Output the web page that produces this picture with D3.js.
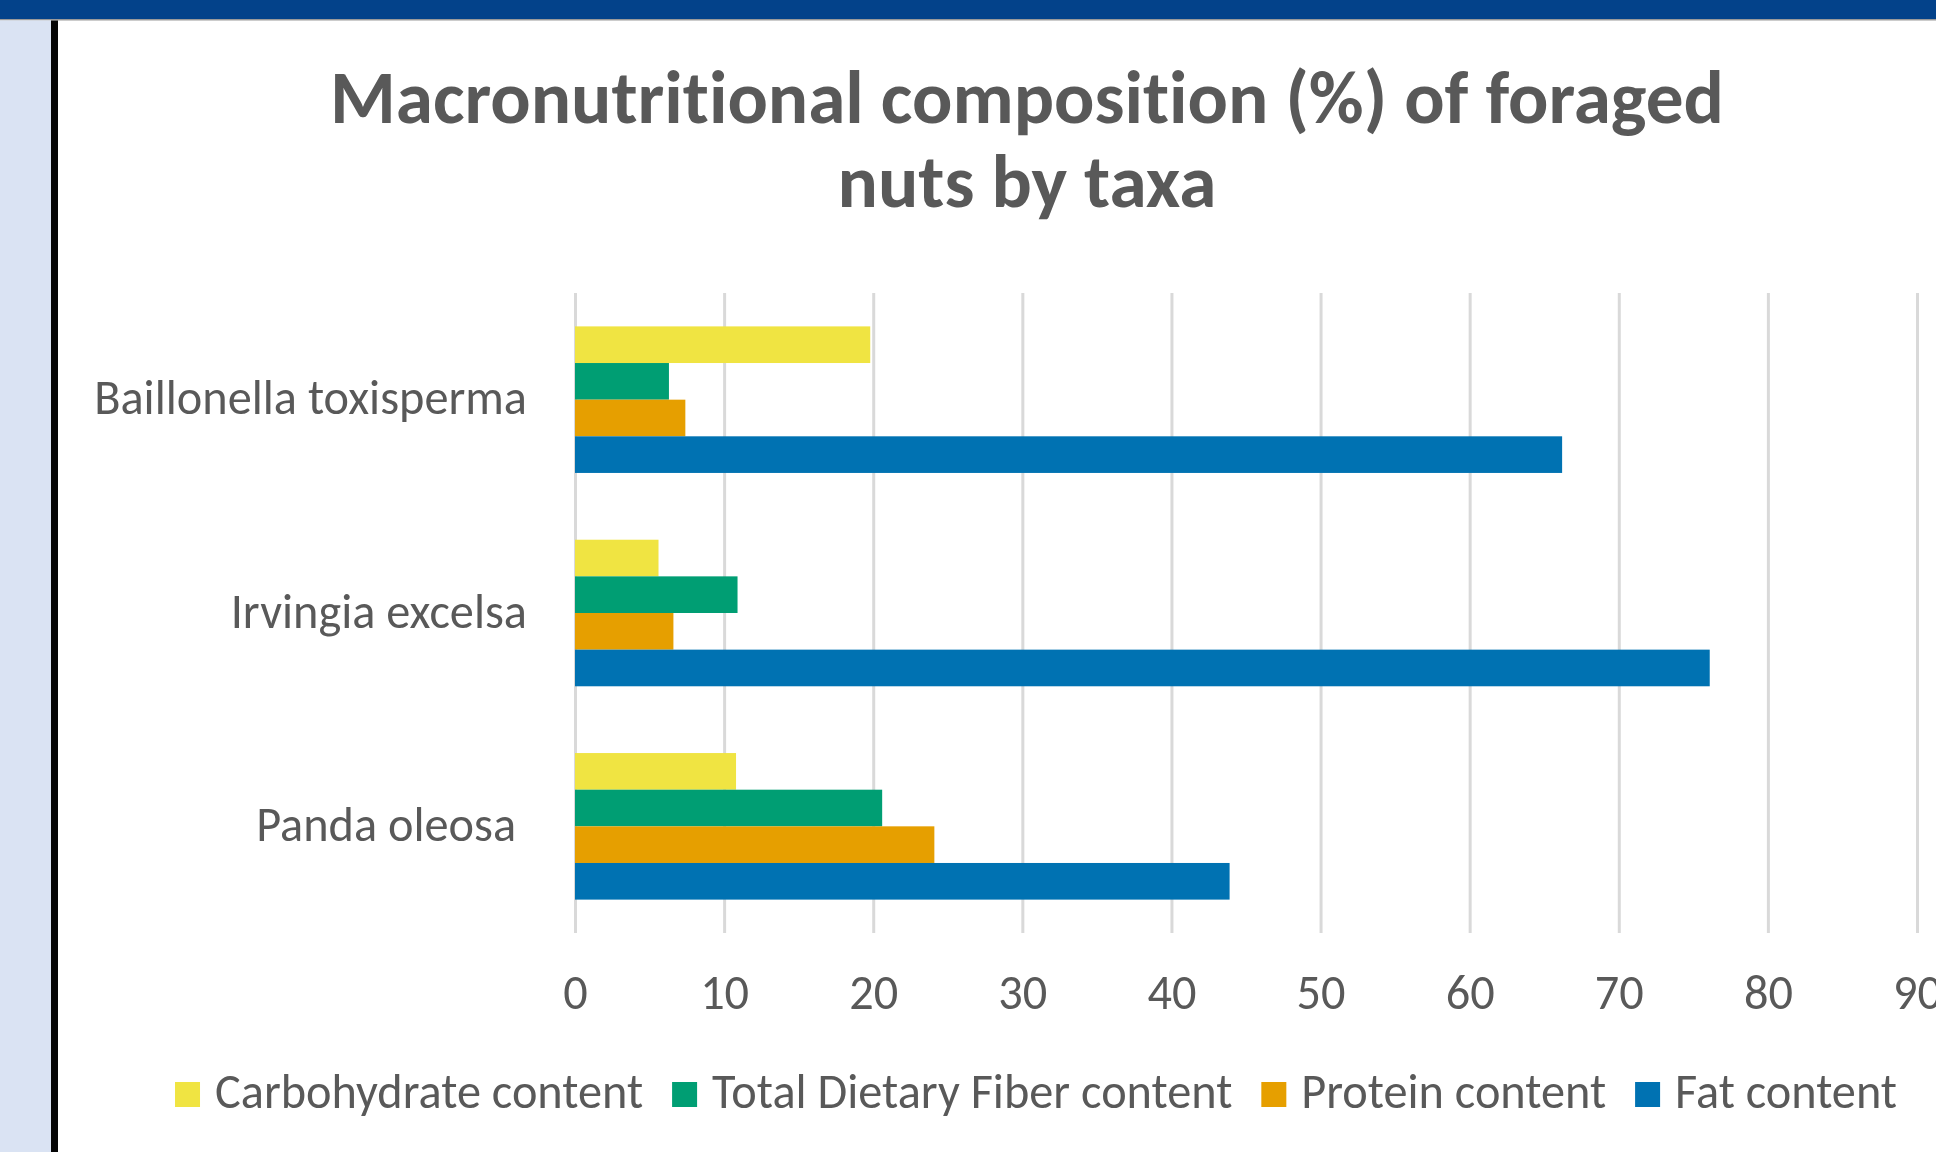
<!DOCTYPE html>
<html>
<head>
<meta charset="utf-8">
<script src="https://cdn.jsdelivr.net/npm/d3@7/dist/d3.min.js"></script>
<style>
  html, body { margin: 0; padding: 0; background: #ffffff; }
  svg { display: block; }
  text { font-family: Carlito, Calibri, Lato, "Open Sans", sans-serif; font-variant-ligatures: none; font-feature-settings: "liga" 0, "clig" 0; }
</style>
</head>
<body>
<svg id="chart" width="1936" height="1152"></svg>
<script>
// ---------------- data ----------------
const categories = ["Baillonella toxisperma", "Irvingia excelsa", "Panda oleosa "];
const seriesNames = ["Carbohydrate content", "Total Dietary Fiber content", "Protein content", "Fat content"];
const carbohydrate = [19.8, 5.6, 10.8];
const fiber = [6.3, 10.9, 20.6];
const protein = [7.4, 6.6, 24.1];
const fat = [66.2, 76.1, 43.9];
const xTicks = [0, 10, 20, 30, 40, 50, 60, 70, 80, 90];
const seriesColors = ["#F0E442", "#009E73", "#E69F00", "#0072B2"];
const titleLines = ["Macronutritional composition (%) of foraged", "nuts by taxa"];

const seriesValues = [carbohydrate, fiber, protein, fat];
const rows = categories.map((c, i) => ({
  category: c,
  values: seriesNames.map((s, j) => ({ series: s, value: seriesValues[j][i], color: seriesColors[j] }))
}));

// ---------------- layout ----------------
const W = 1936, H = 1152;
const svg = d3.select("#chart");
const textColor = "#595959";
const fontStack = "Carlito, Calibri, Lato, 'Open Sans', sans-serif";

// page frame
svg.append("rect").attr("x", 0).attr("y", 0).attr("width", W).attr("height", H).attr("fill", "#ffffff");
svg.append("rect").attr("x", 0).attr("y", 0).attr("width", W).attr("height", 19).attr("fill", "#03428a");
svg.append("rect").attr("x", 0).attr("y", 19).attr("width", W).attr("height", 1.5).attr("fill", "#9a9a9a");
svg.append("rect").attr("x", 0).attr("y", 20.5).attr("width", 51).attr("height", H - 20.5).attr("fill", "#dae3f3");
svg.append("rect").attr("x", 51).attr("y", 20.5).attr("width", 7).attr("height", H - 20.5).attr("fill", "#050505");

// helper: font size so that a sample text reaches a target width
function fitSize(sample, targetWidth, weight) {
  const t = svg.append("text").attr("font-size", 100).attr("font-weight", weight).text(sample);
  const w = t.node().getComputedTextLength();
  t.remove();
  return 100 * targetWidth / w;
}
const titleSize = fitSize(titleLines[0], 1394, "bold");
const labelSize = fitSize("Baillonella toxisperma", 433, "normal");

// title
const titleCx = 1027;
svg.append("g").selectAll("text").data(titleLines).join("text")
  .attr("x", titleCx)
  .attr("y", (d, i) => 123 + i * 84)
  .attr("text-anchor", "middle")
  .attr("font-weight", "bold")
  .attr("font-size", titleSize)
  .attr("fill", textColor)
  .text(d => d);

// scales
const plotTop = 293, plotBottom = 933;
const x = d3.scaleLinear().domain([0, 90]).range([575, 1917]);
const y = d3.scaleBand().domain(categories).range([plotTop, plotBottom]).paddingInner(0.313).paddingOuter(0.1565);
const yInner = d3.scaleBand().domain(seriesNames).range([0, y.bandwidth()]).padding(0);

// gridlines via axis
const gx = svg.append("g").attr("transform", `translate(0,${plotBottom})`)
  .call(d3.axisBottom(x).tickValues(xTicks).tickSize(-(plotBottom - plotTop)).tickFormat(d3.format("d")));
gx.select(".domain").remove();
gx.selectAll(".tick line").attr("stroke", "#d9d9d9").attr("stroke-width", 3);
gx.selectAll(".tick text")
  .attr("y", 76).attr("dy", 0)
  .attr("font-size", labelSize)
  .attr("fill", textColor)
  .style("font-family", fontStack);

// bars
const groups = svg.append("g").selectAll("g").data(rows).join("g")
  .attr("transform", d => `translate(0,${y(d.category)})`);
groups.selectAll("rect").data(d => d.values).join("rect")
  .attr("x", x(0))
  .attr("y", d => yInner(d.series))
  .attr("width", d => x(d.value) - x(0))
  .attr("height", yInner.bandwidth())
  .attr("fill", d => d.color);

// category labels
const gy = svg.append("g").attr("transform", `translate(527,0)`)
  .call(d3.axisLeft(y).tickSize(0).tickPadding(0));
gy.select(".domain").remove();
gy.selectAll(".tick text")
  .attr("font-size", labelSize)
  .attr("fill", textColor)
  .attr("dy", "0.3em")
  .style("white-space", "pre")
  .style("font-family", fontStack);

// legend
const legend = svg.append("g");
const sq = 25, gapText = 15, gapItem = 29;
const items = legend.selectAll("g").data(seriesNames).join("g");
items.append("rect").attr("width", sq).attr("height", sq).attr("y", 1082)
  .attr("fill", (d, i) => seriesColors[i]);
items.append("text").attr("y", 1108).attr("font-size", labelSize).attr("fill", textColor).text(d => d);
let cursor = 0;
const positions = [];
items.each(function() {
  const tw = d3.select(this).select("text").node().getComputedTextLength();
  positions.push(cursor);
  cursor += sq + gapText + tw + gapItem;
});
const legendWidth = cursor - gapItem;
const legendStart = 1036 - legendWidth / 2;
items.each(function(d, i) {
  const g = d3.select(this);
  g.select("rect").attr("x", legendStart + positions[i]);
  g.select("text").attr("x", legendStart + positions[i] + sq + gapText);
});
</script>
</body>
</html>
